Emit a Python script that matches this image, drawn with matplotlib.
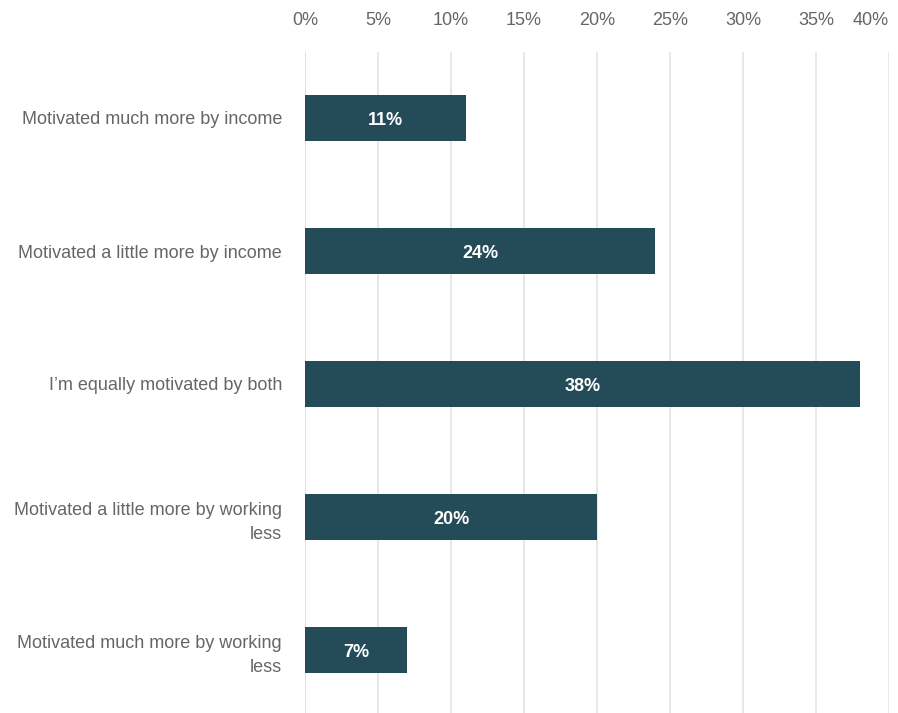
import matplotlib.pyplot as plt
import numpy as np

plt.rcParams['font.family'] = ['Liberation Sans', 'DejaVu Sans']

categories = [
    "Motivated much more by income",
    "Motivated a little more by income",
    "I\u2019m equally motivated by both",
    "Motivated a little more by working\nless",
    "Motivated much more by working\nless",
]
values = [11, 24, 38, 20, 7]
ticks = [0, 5, 10, 15, 20, 25, 30, 35, 40]

bar_color = "#234b58"
label_color = "#666666"

fig = plt.figure(figsize=(8.98, 7.13), dpi=100)
ax = fig.add_axes([305 / 898, -3.5 / 713, 584 / 898, 665 / 713])

y = np.arange(len(categories))
bars = ax.barh(y, values, height=0.35, color=bar_color, zorder=3)

for b, v in zip(bars, values):
    ax.text(b.get_width() / 2, b.get_y() + b.get_height() / 2 + 0.02, f"{v}%",
            ha="center", va="center", color="white", fontsize=13,
            fontweight="bold", zorder=4)

ax.set_xlim(0, 40)
ax.set_ylim(len(categories) - 0.5, -0.5)
ax.set_xticks(ticks)
ax.set_xticklabels([f"{t}%" for t in ticks])
ax.xaxis.tick_top()
ax.tick_params(axis="x", length=0, pad=16, labelsize=13, labelcolor=label_color)
ax.set_yticks(y)
ax.set_yticklabels(categories, fontsize=13, color=label_color, linespacing=1.55)
ax.tick_params(axis="y", length=0, pad=16.5)

# last label gets pulled inside the figure edge
xl = ax.get_xticklabels()
xl[-1].set_horizontalalignment("right")

ax.grid(axis="x", color="#e3e3e3", linewidth=1.2, zorder=0)
ax.axvline(0, color="#cbd2e3", linewidth=1.2, zorder=1)
for s in ax.spines.values():
    s.set_visible(False)

fig.savefig("out.png", dpi=100)
